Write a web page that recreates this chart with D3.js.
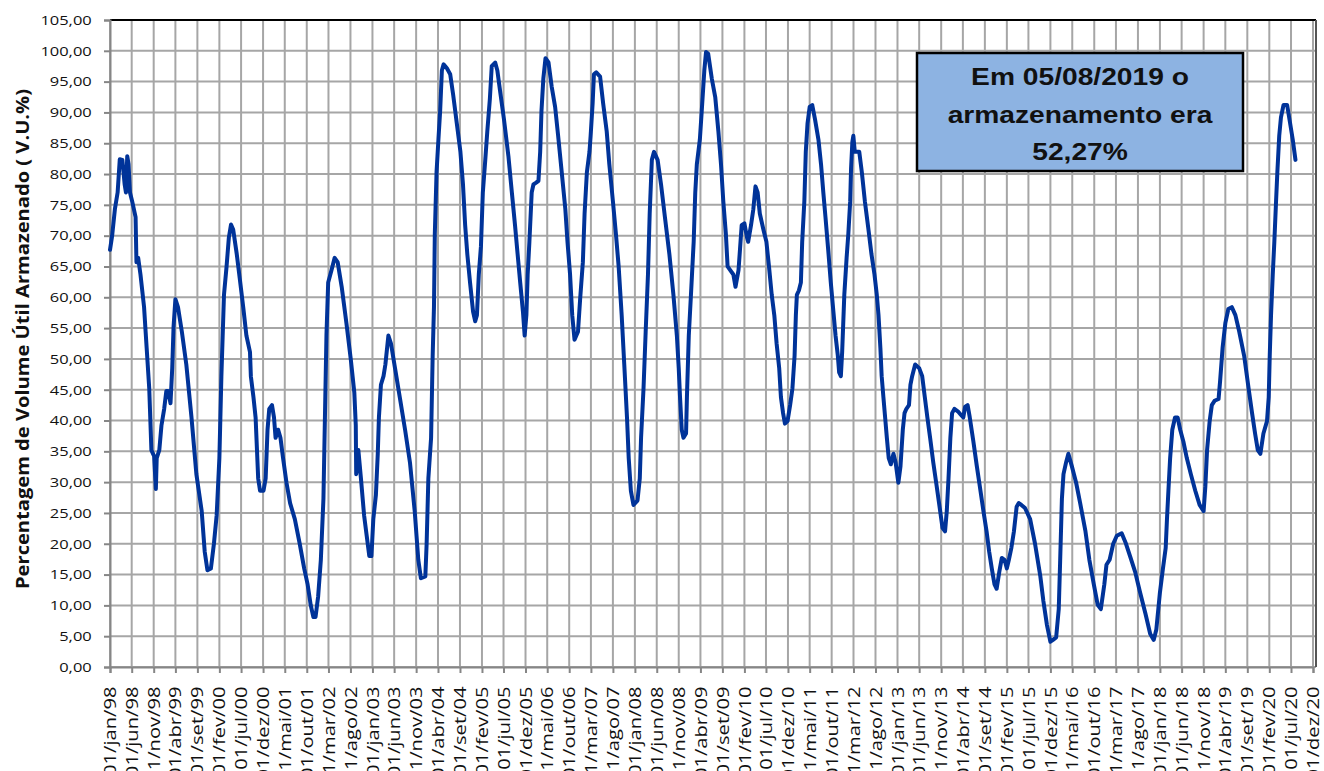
<!DOCTYPE html>
<html>
<head>
<meta charset="utf-8">
<script src="https://cdn.jsdelivr.net/npm/d3@7"></script>
<style>
  body { margin: 0; background: #fff; }
  .chart svg { display: block; }
</style>
</head>
<body>
<div class="chart"></div>
<script>
// datas das leituras (dia aproximado) e volume util armazenado (%)
const datas = [
  "1998-01-01","1998-01-16","1998-02-04","1998-02-23","1998-03-10","1998-03-28","1998-04-13","1998-04-22",
  "1998-05-01","1998-05-10","1998-05-20","1998-06-04","1998-06-28","1998-07-04","1998-07-16","1998-08-01",
  "1998-08-26","1998-09-13","1998-10-01","1998-10-16","1998-11-04","1998-11-16","1998-11-22","1998-12-10",
  "1998-12-25","1999-01-13","1999-01-28","1999-02-10","1999-02-26","1999-03-10","1999-03-19","1999-04-01",
  "1999-04-19","1999-05-16","1999-06-16","1999-07-22","1999-08-25","1999-10-01","1999-10-22","1999-11-10",
  "1999-12-04","1999-12-25","2000-01-13","2000-02-01","2000-02-15","2000-03-04","2000-03-22","2000-04-07",
  "2000-04-22","2000-05-07","2000-06-01","2000-06-22","2000-07-16","2000-08-07","2000-09-01","2000-09-07",
  "2000-09-25","2000-10-10","2000-10-28","2000-11-10","2000-12-04","2000-12-19","2001-01-01","2001-01-13",
  "2001-02-01","2001-02-15","2001-02-26","2001-03-16","2001-04-01","2001-04-19","2001-05-13","2001-06-07",
  "2001-07-10","2001-08-13","2001-09-13","2001-10-07","2001-10-28","2001-11-16","2001-12-01","2001-12-19",
  "2002-01-07","2002-01-25","2002-02-07","2002-02-15","2002-02-27","2002-03-22","2002-04-13","2002-05-04",
  "2002-06-01","2002-07-04","2002-08-04","2002-08-28","2002-09-07","2002-09-10","2002-09-25","2002-10-13",
  "2002-11-04","2002-11-22","2002-12-10","2002-12-25","2003-01-07","2003-01-25","2003-02-07","2003-02-15",
  "2003-03-01","2003-03-19","2003-04-01","2003-04-22","2003-05-10","2003-06-07","2003-07-10","2003-08-16",
  "2003-09-19","2003-10-22","2003-11-16","2003-12-04","2004-01-04","2004-01-13","2004-01-25","2004-02-13",
  "2004-02-24","2004-03-04","2004-03-10","2004-03-22","2004-04-04","2004-04-16","2004-04-28","2004-05-10",
  "2004-06-01","2004-06-25","2004-07-16","2004-08-10","2004-09-04","2004-09-22","2004-10-07","2004-10-22",
  "2004-11-10","2004-12-01","2004-12-16","2004-12-28","2005-01-10","2005-01-25","2005-02-07","2005-02-24",
  "2005-03-10","2005-03-28","2005-04-10","2005-05-04","2005-05-19","2005-06-07","2005-07-04","2005-08-04",
  "2005-08-28","2005-09-19","2005-10-07","2005-10-25","2005-11-13","2005-11-25","2005-12-07","2005-12-16",
  "2005-12-28","2006-01-13","2006-01-25","2006-02-13","2006-03-01","2006-03-13","2006-03-22","2006-04-04",
  "2006-04-19","2006-05-10","2006-06-01","2006-06-25","2006-07-16","2006-08-10","2006-09-04","2006-09-19",
  "2006-10-07","2006-10-22","2006-11-07","2006-12-01","2006-12-16","2007-01-04","2007-01-16","2007-02-01",
  "2007-02-19","2007-02-27","2007-03-13","2007-03-22","2007-04-07","2007-05-04","2007-05-25","2007-06-19",
  "2007-07-07","2007-08-01","2007-08-22","2007-09-10","2007-10-01","2007-10-19","2007-11-07","2007-11-19",
  "2007-12-04","2007-12-22","2008-01-19","2008-02-04","2008-02-13","2008-03-01","2008-03-16","2008-04-01",
  "2008-04-13","2008-04-28","2008-05-13","2008-06-07","2008-07-01","2008-07-28","2008-08-28","2008-09-25",
  "2008-10-19","2008-11-01","2008-11-10","2008-11-22","2008-12-04","2008-12-22","2008-12-28","2009-01-10",
  "2009-01-25","2009-02-13","2009-02-24","2009-03-07","2009-03-28","2009-04-10","2009-04-28","2009-05-10",
  "2009-05-25","2009-06-19","2009-07-13","2009-08-04","2009-08-22","2009-09-07","2009-09-25","2009-10-07",
  "2009-10-25","2009-11-16","2009-12-01","2009-12-22","2010-01-01","2010-01-13","2010-02-01","2010-02-19",
  "2010-02-27","2010-03-19","2010-04-04","2010-04-19","2010-05-04","2010-05-19","2010-06-13","2010-07-04",
  "2010-07-22","2010-08-10","2010-08-28","2010-09-13","2010-10-01","2010-10-13","2010-10-28","2010-11-10",
  "2010-11-28","2010-12-16","2011-01-01","2011-01-16","2011-01-25","2011-02-01","2011-02-15","2011-03-01",
  "2011-03-10","2011-03-25","2011-04-04","2011-04-16","2011-05-01","2011-05-19","2011-06-07","2011-07-01",
  "2011-07-19","2011-08-04","2011-08-19","2011-09-07","2011-09-25","2011-10-13","2011-10-28","2011-11-13",
  "2011-11-22","2011-12-04","2011-12-13","2011-12-28","2012-01-13","2012-01-25","2012-02-07","2012-02-13",
  "2012-02-22","2012-02-29","2012-03-10","2012-03-22","2012-04-10","2012-04-28","2012-05-19","2012-06-13",
  "2012-07-04","2012-07-25","2012-08-10","2012-08-22","2012-09-04","2012-09-13","2012-09-25","2012-10-07",
  "2012-10-19","2012-11-01","2012-11-16","2012-12-04","2012-12-19","2013-01-07","2013-01-22","2013-02-07",
  "2013-02-19","2013-03-04","2013-03-22","2013-04-01","2013-04-13","2013-05-04","2013-06-01","2013-06-22",
  "2013-07-10","2013-07-28","2013-08-16","2013-09-07","2013-10-01","2013-10-25","2013-11-10","2013-11-28",
  "2013-12-10","2013-12-22","2014-01-04","2014-01-16","2014-02-01","2014-02-25","2014-03-19","2014-04-04",
  "2014-04-16","2014-05-04","2014-05-19","2014-06-13","2014-07-07","2014-07-28","2014-08-22","2014-09-13",
  "2014-10-01","2014-10-19","2014-11-07","2014-11-22","2014-12-10","2014-12-28","2015-01-16","2015-02-01",
  "2015-02-15","2015-03-04","2015-03-22","2015-04-10","2015-04-25","2015-05-13","2015-06-07","2015-07-13",
  "2015-08-16","2015-09-22","2015-10-13","2015-11-07","2015-12-01","2015-12-19","2016-01-10","2016-01-28",
  "2016-02-07","2016-02-19","2016-03-01","2016-03-19","2016-04-04","2016-04-28","2016-05-28","2016-06-25",
  "2016-08-01","2016-08-28","2016-09-28","2016-10-25","2016-11-16","2016-12-10","2016-12-25","2017-01-16",
  "2017-02-10","2017-03-07","2017-04-10","2017-05-10","2017-06-07","2017-07-13","2017-08-16","2017-09-22",
  "2017-10-25","2017-11-19","2017-12-07","2018-01-01","2018-01-22","2018-02-10","2018-02-19","2018-03-01",
  "2018-03-13","2018-03-28","2018-04-16","2018-05-04","2018-05-22","2018-06-13","2018-07-07","2018-08-04",
  "2018-09-04","2018-10-04","2018-11-01","2018-11-13","2018-11-25","2018-12-13","2018-12-28","2019-01-16",
  "2019-02-13","2019-02-24","2019-03-13","2019-04-01","2019-04-22","2019-05-16","2019-06-10","2019-07-07",
  "2019-08-10","2019-09-10","2019-10-04","2019-10-25","2019-11-13","2019-12-01","2019-12-22","2020-01-16",
  "2020-01-28","2020-02-04","2020-02-13","2020-02-25","2020-03-07","2020-03-19","2020-03-28","2020-04-10",
  "2020-04-22","2020-05-10","2020-06-04","2020-06-25","2020-07-13","2020-08-01"
];

const volumes = [
  67.7,70.0,74.3,77.0,82.4,82.3,78.3,77.0,
  82.9,81.6,77.0,75.6,73.0,65.7,66.4,63.7,
  58.4,51.8,45.2,35.2,34.2,28.9,33.9,35.2,
  39.2,41.9,44.8,44.8,42.8,48.5,55.1,59.7,
  58.4,54.4,49.1,40.5,31.3,25.3,18.7,15.7,
  16.0,20.0,24.6,33.9,47.2,60.4,65.0,69.7,
  71.8,71.0,67.0,63.0,58.4,53.8,51.1,47.2,
  43.8,40.5,30.6,28.6,28.6,30.6,38.5,41.9,
  42.5,40.5,37.2,38.5,37.2,33.9,29.9,26.6,
  24.0,20.0,16.0,13.4,10.1,8.1,8.1,11.4,
  17.4,27.3,43.8,53.8,62.4,64.4,66.4,65.7,
  61.7,55.8,49.8,44.5,39.2,31.3,35.2,30.6,
  24.6,21.3,18.0,18.0,24.0,27.9,34.6,40.5,
  45.8,47.2,49.1,53.8,52.5,48.5,43.8,38.5,
  33.2,25.3,17.4,14.4,14.7,20.0,30.6,37.2,
  50.5,58.4,70.3,80.3,85.6,90.2,96.8,97.8,
  97.2,96.2,92.8,88.2,83.6,78.3,71.7,67.0,
  62.4,57.7,56.1,57.1,63.7,68.3,77.0,82.3,
  86.9,92.2,97.5,98.1,96.8,93.5,88.9,82.9,
  77.0,71.7,67.0,62.4,57.7,53.8,57.1,63.7,
  69.0,77.0,78.3,78.6,78.9,83.6,90.2,95.5,
  98.8,98.1,94.2,90.9,86.2,80.3,74.3,69.0,
  63.7,57.1,53.1,54.4,59.7,65.7,73.6,80.3,
  83.6,86.2,91.5,96.2,96.5,95.8,91.5,86.9,
  81.6,75.6,70.3,65.0,57.1,49.1,40.5,33.9,
  28.6,26.3,27.0,30.6,37.2,45.2,54.4,63.7,
  73.6,82.3,83.6,82.3,78.3,73.0,67.0,60.4,
  53.8,48.5,43.8,38.5,37.2,37.9,43.8,53.8,
  60.4,69.0,77.0,81.6,85.6,90.2,96.8,99.8,
  99.5,95.5,92.5,86.9,81.6,75.6,70.3,65.0,
  64.4,63.7,61.7,64.4,67.7,71.7,72.0,69.7,
  69.0,71.7,74.3,78.0,77.0,73.6,71.0,69.0,
  65.0,60.4,57.1,52.5,48.5,43.8,41.2,39.5,
  39.9,42.5,45.2,50.5,57.1,60.4,61.1,62.4,
  69.0,75.6,83.6,88.2,90.9,91.2,88.9,85.6,
  81.6,77.0,73.0,67.7,62.4,57.7,53.8,50.5,
  47.8,47.2,51.1,60.4,66.4,70.3,75.6,80.9,
  85.2,86.2,83.6,83.6,83.6,80.3,75.6,71.0,
  67.0,63.7,60.4,57.1,51.8,47.2,43.8,40.5,
  37.2,33.9,32.9,34.6,33.2,29.9,32.6,38.5,
  41.2,41.9,42.5,45.8,47.2,49.1,48.5,47.2,
  43.8,40.5,37.2,33.2,29.3,25.3,22.6,22.0,
  25.3,30.6,37.2,41.2,41.9,41.5,40.9,40.5,
  42.2,42.5,40.5,36.6,32.6,29.3,25.3,22.0,
  18.7,16.0,13.4,12.7,15.4,17.7,17.4,16.0,
  17.4,19.3,22.0,26.0,26.6,26.3,25.8,24.0,
  20.0,14.7,10.7,6.8,4.1,4.4,4.8,9.4,
  17.4,27.3,31.3,33.2,34.6,32.6,29.9,26.6,
  22.0,17.4,13.4,10.1,9.4,13.4,16.6,17.4,
  20.0,21.3,21.7,20.0,18.0,15.4,12.1,8.7,
  5.4,4.4,6.1,12.1,16.0,19.3,24.0,28.6,
  33.9,38.5,40.5,40.5,38.5,36.6,33.9,31.3,
  28.6,26.3,25.3,29.3,35.2,39.9,42.5,43.2,
  43.5,46.5,51.8,55.8,58.1,58.4,57.1,54.4,
  50.5,45.2,41.2,37.9,35.2,34.6,37.9,39.9,
  43.8,50.5,57.1,63.7,69.0,75.6,80.3,86.2,
  89.2,91.2,91.2,88.2,85.6,82.3
];

const mesesPt = ["jan","fev","mar","abr","mai","jun","jul","ago","set","out","nov","dez"];
const yTicks = d3.range(0, 106, 5);
const textoCaixa = ["Em 05/08/2019 o", "armazenamento era", "52,27%"];
const tituloY = "Percentagem de Volume Útil Armazenado ( V.U.%)";

const svgWidth = 1324, svgHeight = 771;
const margin = { top: 20, right: 8, bottom: 104, left: 110 };
const width = svgWidth - margin.left - margin.right;   // 1206
const height = svgHeight - margin.top - margin.bottom; // 647

const parse = d3.timeParse("%Y-%m-%d");
const serie = datas.map((d, i) => ({ data: parse(d), v: volumes[i] }));

// ticks a cada 5 meses desde jan/98
const xTickVals = d3.range(56).map(i => new Date(1998, i * 5, 1));

const svg = d3.select(".chart").append("svg")
  .attr("width", svgWidth)
  .attr("height", svgHeight);

const chartGroup = svg.append("g")
  .attr("transform", `translate(${margin.left}, ${margin.top})`);

const x = d3.scaleTime()
  .domain([new Date(1998, 0, 1), new Date(2020, 11, 1)])
  .range([0, 1203]);

const y = d3.scaleLinear()
  .domain([0, 105])
  .range([height, 0]);

const gridColor = "#a6a6a6";

// grade horizontal
chartGroup.append("g").selectAll("line")
  .data(yTicks)
  .enter().append("line")
  .attr("x1", 0).attr("x2", width)
  .attr("y1", d => y(d)).attr("y2", d => y(d))
  .attr("stroke", gridColor).attr("stroke-width", 2);

// grade vertical
chartGroup.append("g").selectAll("line")
  .data(xTickVals)
  .enter().append("line")
  .attr("x1", d => x(d)).attr("x2", d => x(d))
  .attr("y1", 0).attr("y2", height)
  .attr("stroke", gridColor).attr("stroke-width", 2);

// moldura
chartGroup.append("line")
  .attr("x1", 0).attr("x2", width).attr("y1", 0).attr("y2", 0)
  .attr("stroke", "#000").attr("stroke-width", 2);
chartGroup.append("line")
  .attr("x1", width).attr("x2", width).attr("y1", 0).attr("y2", height)
  .attr("stroke", "#555").attr("stroke-width", 2);

// eixos
const leftAxis = d3.axisLeft(y)
  .tickValues(yTicks)
  .tickSize(6)
  .tickPadding(9)
  .tickFormat(d => d3.format(".2f")(d).replace(".", ","));

const bottomAxis = d3.axisBottom(x)
  .tickValues(xTickVals)
  .tickSize(6)
  .tickFormat(d => "01/" + mesesPt[d.getMonth()] + "/" + String(d.getFullYear()).slice(2));

const gy = chartGroup.append("g").call(leftAxis);
gy.select(".domain").attr("stroke", "#868686").attr("stroke-width", 2);
gy.selectAll(".tick line").attr("stroke", "#868686").attr("stroke-width", 2);
gy.selectAll(".tick text")
  .attr("font-family", "'Open Sans', sans-serif")
  .attr("font-size", 13.5)
  .attr("fill", "#111")
  .attr("transform", "scale(1.22,1)");

const gx = chartGroup.append("g")
  .attr("transform", `translate(0, ${height})`)
  .call(bottomAxis);
gx.select(".domain").attr("stroke", "#868686").attr("stroke-width", 2);
gx.selectAll(".tick line").attr("stroke", "#868686").attr("stroke-width", 2);
gx.selectAll(".tick text")
  .attr("font-family", "'Open Sans', sans-serif")
  .attr("font-size", 15.5)
  .attr("fill", "#111")
  .attr("text-anchor", "end")
  .attr("x", -15)
  .attr("y", 0)
  .attr("dy", "0.36em")
  .attr("transform", "rotate(-90) scale(1.3,1)");

// linha da serie
const line = d3.line()
  .x(d => x(d.data))
  .y(d => y(d.v));

chartGroup.append("path")
  .datum(serie)
  .attr("fill", "none")
  .attr("stroke", "#003399")
  .attr("stroke-width", 4)
  .attr("stroke-linejoin", "round")
  .attr("stroke-linecap", "round")
  .attr("d", line);

// titulo do eixo Y
svg.append("text")
  .attr("transform", "translate(29, 339) rotate(-90)")
  .attr("text-anchor", "middle")
  .attr("font-family", "'Open Sans', sans-serif")
  .attr("font-weight", "bold")
  .attr("font-size", 18)
  .attr("textLength", 500)
  .attr("lengthAdjust", "spacingAndGlyphs")
  .attr("fill", "#111")
  .text(tituloY);

// caixa de texto
const caixa = svg.append("g");
caixa.append("rect")
  .attr("x", 917).attr("y", 53)
  .attr("width", 326).attr("height", 118)
  .attr("fill", "#8db3e2")
  .attr("stroke", "#000")
  .attr("stroke-width", 2.5);

caixa.selectAll("text")
  .data(textoCaixa)
  .enter().append("text")
  .attr("transform", (d, i) => `translate(1080, ${85 + i * 37.5}) scale(1.2,1)`)
  .attr("text-anchor", "middle")
  .attr("font-family", "'Liberation Sans', Arial, sans-serif")
  .attr("font-weight", "bold")
  .attr("font-size", 23.5)
  .attr("fill", "#111")
  .text(d => d);
</script>
</body>
</html>
